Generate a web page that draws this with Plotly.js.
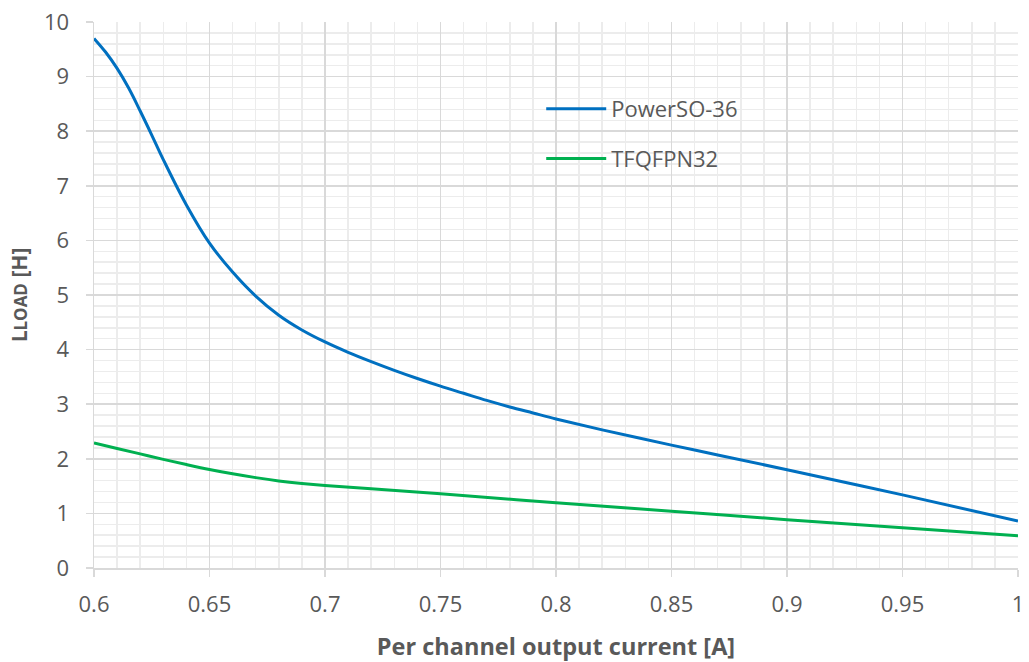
<!DOCTYPE html>
<html>
<head>
<meta charset="utf-8">
<script src="https://cdn.plot.ly/plotly-3.0.1.min.js"></script>
<style>html,body{margin:0;padding:0;background:#fff;}#chart{width:1029px;height:662px;}</style>
</head>
<body>
<div id="chart"></div>
<script>
var seriesNames = ["PowerSO-36", "TFQFPN32"];
var xPower = [0.600,0.605,0.610,0.615,0.620,0.625,0.63,0.64,0.65,0.66,0.67,0.68,0.69,0.70,0.71,0.72,0.73,0.74,0.75,0.76,0.77,0.78,0.79,0.80,0.82,0.85,0.87,0.90,0.95,1.00];
var yPower = [9.70,9.45,9.15,8.79,8.37,7.93,7.48,6.65,5.95,5.42,4.98,4.63,4.36,4.14,3.95,3.78,3.62,3.47,3.33,3.20,3.07,2.95,2.84,2.73,2.53,2.25,2.07,1.80,1.34,0.86];
var xTfq = [0.60,0.61,0.62,0.63,0.64,0.65,0.66,0.67,0.68,0.69,0.70,0.72,0.75,0.80,0.85,0.90,0.95,1.00];
var yTfq = [2.29,2.19,2.09,1.99,1.895,1.805,1.725,1.655,1.595,1.548,1.51,1.45,1.36,1.195,1.04,0.885,0.735,0.59];
var xTickVals = [0.6,0.65,0.7,0.75,0.8,0.85,0.9,0.95,1.0];
var xTickText = ["0.6","0.65","0.7","0.75","0.8","0.85","0.9","0.95","1"];
var yTickVals = [0,1,2,3,4,5,6,7,8,9,10];

var font = "'Open Sans', 'Noto Sans', sans-serif";
var traces = [
  {x: xPower, y: yPower, name: seriesNames[0], mode: "lines", legendgroup: "a",
   line: {color: "#0070c0", width: 3, shape: "spline", smoothing: 1}},
  {x: xTfq, y: yTfq, name: seriesNames[1], mode: "lines", legendgroup: "b",
   line: {color: "#00b050", width: 3, shape: "spline", smoothing: 1}}
];
var layout = {
  width: 1029, height: 662,
  margin: {l: 94, r: 11, t: 22, b: 94},
  paper_bgcolor: "#ffffff", plot_bgcolor: "#ffffff",
  font: {family: font, color: "#595959", size: 20},
  showlegend: true,
  legend: {x: 0.484, y: 0.879, xanchor: "left", yanchor: "top", bgcolor: "rgba(0,0,0,0)",
           itemwidth: 60,
           font: {size: 22, color: "#595959"}, traceorder: "grouped", tracegroupgap: 18},
  xaxis: {
    range: [0.6, 1.0], tickvals: xTickVals, ticktext: xTickText,
    showgrid: true, gridcolor: "#d9d9d9", gridwidth: 1.5,
    minor: {dtick: 0.01, showgrid: true, gridcolor: "#ececec", gridwidth: 1.5},
    ticks: "outside", ticklen: 7, tickcolor: "#d9d9d9", tickwidth: 1.5,
    showline: true, linecolor: "#d9d9d9", linewidth: 1.5, zeroline: false,
    ticklabelstandoff: 9,
    tickfont: {size: 22, color: "#595959"},
    title: {text: "<b>Per channel output current [A]</b>", font: {size: 23.5, color: "#595959"}, standoff: 22}
  },
  yaxis: {
    range: [0, 10], tickvals: yTickVals,
    showgrid: true, gridcolor: "#d9d9d9", gridwidth: 1.5,
    minor: {dtick: 0.2, showgrid: true, gridcolor: "#ececec", gridwidth: 1.5},
    ticks: "outside", ticklen: 7, tickcolor: "#d9d9d9", tickwidth: 1.5,
    showline: true, linecolor: "#d9d9d9", linewidth: 1.5, zeroline: false,
    ticklabelstandoff: 12,
    tickfont: {size: 22, color: "#595959"},
    title: {text: "<b>L<span style=\"font-size:17px\">LOAD</span> [H]</b>", font: {size: 21, color: "#595959"}, standoff: 10}
  }
};
Plotly.newPlot("chart", traces, layout, {displayModeBar: false, staticPlot: true});
</script>
</body>
</html>
